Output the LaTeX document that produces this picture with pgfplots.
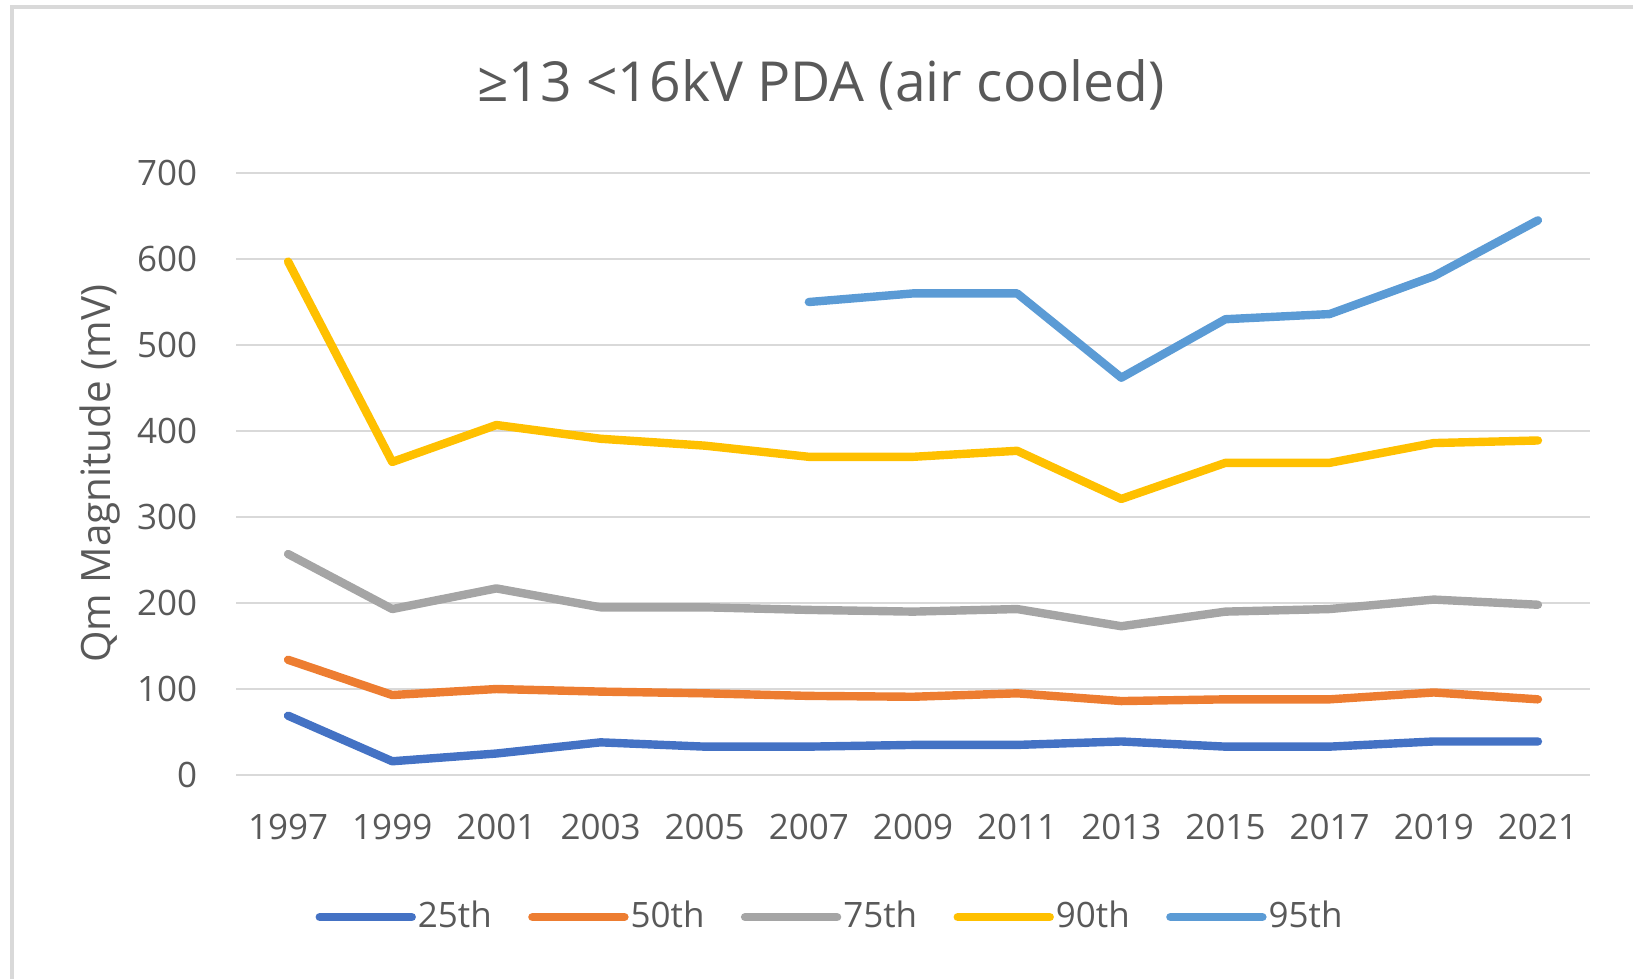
\documentclass[border=0pt]{standalone}
\usepackage{fontspec}
\setmainfont{Open Sans}
\usepackage{pgfplots}
\pgfplotsset{compat=1.18}
\definecolor{c25}{HTML}{4472C4}
\definecolor{c50}{HTML}{ED7D31}
\definecolor{c75}{HTML}{A5A5A5}
\definecolor{c90}{HTML}{FFC000}
\definecolor{c95}{HTML}{5B9BD5}
\definecolor{gridgray}{HTML}{D9D9D9}
\definecolor{txtgray}{HTML}{595959}

\begin{document}
\begin{tikzpicture}
\path[use as bounding box] (0,0) rectangle (408.25pt,244.75pt);
% chart area frame (only top and left edges are in view)
\draw[gridgray, line width=1pt] (3pt,0) -- (3pt,243pt) -- (408.25pt,243pt);
% title
\node[anchor=base, text=txtgray, font=\fontsize{13.8}{16}\selectfont, inner sep=0pt]
  at (205.25pt,219.5pt) {≥13 <16kV PDA (air cooled)};
% y label
\node[anchor=base, rotate=90, text=txtgray, font=\fontsize{10.1}{12}\selectfont, inner sep=0pt]
  at (27.6pt,126.3pt) {Qm Magnitude (mV)};
\begin{axis}[
    scale only axis,
    width=338.5pt, height=150.5pt,
    at={(59pt,51pt)}, anchor=south west,
    xmin=1996, xmax=2022, ymin=0, ymax=700,
    axis line style={draw=none},
    clip=false,
    xtick={1997,1999,...,2021},
    ytick={0,100,...,700},
    major tick length=0pt,
    ymajorgrids, grid style={gridgray, line width=0.65pt},
    /pgf/number format/.cd, 1000 sep={}, assume math mode=true, /pgfplots/.cd,
    every x tick label/.append style={inner sep=0pt, anchor=north, yshift=-9.6pt},
    every y tick label/.append style={inner sep=0pt, anchor=east, xshift=-9.5pt},
    tick label style={font=\fontsize{8.75}{10}\selectfont, text=txtgray},
    legend columns=5,
    legend style={at={(0.4387,-0.236)}, anchor=center, draw=none, fill=none,
        inner sep=0pt, font=\fontsize{8.75}{10}\selectfont, text=txtgray,
        nodes={inner sep=0.5pt},
        /tikz/every even column/.append style={column sep=8.6pt},
        /tikz/every odd column/.append style={column sep=0pt}},
    legend image code/.code={\draw[#1, line cap=round] (0.3pt,0pt) -- (23.3pt,0pt);},
    every axis plot/.append style={line width=2.1pt, line cap=round, line join=round},
]
\addplot[c25] coordinates {
 (1997,69)(1999,16)(2001,25)(2003,38)(2005,33)(2007,33)(2009,35)(2011,35)(2013,39)(2015,33)(2017,33)(2019,39)(2021,39)};
\addlegendentry{25th}
\addplot[c50] coordinates {
 (1997,134)(1999,93)(2001,100)(2003,97)(2005,95)(2007,92)(2009,91)(2011,95)(2013,86)(2015,88)(2017,88)(2019,96)(2021,88)};
\addlegendentry{50th}
\addplot[c75] coordinates {
 (1997,257)(1999,193)(2001,217)(2003,195)(2005,195)(2007,192)(2009,190)(2011,193)(2013,173)(2015,190)(2017,193)(2019,204)(2021,198)};
\addlegendentry{75th}
\addplot[c90] coordinates {
 (1997,597)(1999,364)(2001,407)(2003,391)(2005,383)(2007,370)(2009,370)(2011,377)(2013,321)(2015,363)(2017,363)(2019,386)(2021,389)};
\addlegendentry{90th}
\addplot[c95] coordinates {
 (2007,550)(2009,560)(2011,560)(2013,462)(2015,530)(2017,536)(2019,580)(2021,645)};
\addlegendentry{95th}
\end{axis}
\end{tikzpicture}
\end{document}
